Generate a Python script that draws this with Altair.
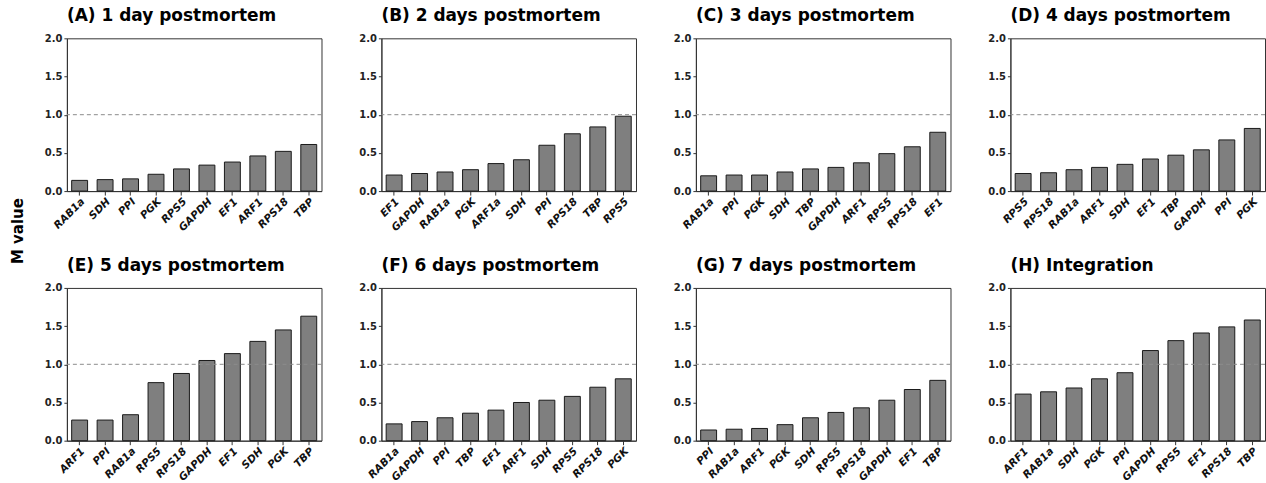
import altair as alt
import pandas as pd

FONT = "DejaVu Sans"

# M values of the candidate reference genes, ordered from most to least stable
genes_a = ["RAB1a", "SDH", "PPI", "PGK", "RPS5", "GAPDH", "EF1", "ARF1", "RPS18", "TBP"]
m_a = [0.14, 0.15, 0.16, 0.22, 0.29, 0.34, 0.38, 0.46, 0.52, 0.61]

genes_b = ["EF1", "GAPDH", "RAB1a", "PGK", "ARF1a", "SDH", "PPI", "RPS18", "TBP", "RPS5"]
m_b = [0.21, 0.23, 0.25, 0.28, 0.36, 0.41, 0.60, 0.75, 0.84, 0.98]

genes_c = ["RAB1a", "PPI", "PGK", "SDH", "TBP", "GAPDH", "ARF1", "RPS5", "RPS18", "EF1"]
m_c = [0.20, 0.21, 0.21, 0.25, 0.29, 0.31, 0.37, 0.49, 0.58, 0.77]

genes_d = ["RPS5", "RPS18", "RAB1a", "ARF1", "SDH", "EF1", "TBP", "GAPDH", "PPI", "PGK"]
m_d = [0.23, 0.24, 0.28, 0.31, 0.35, 0.42, 0.47, 0.54, 0.67, 0.82]

genes_e = ["ARF1", "PPI", "RAB1a", "RPS5", "RPS18", "GAPDH", "EF1", "SDH", "PGK", "TBP"]
m_e = [0.27, 0.27, 0.34, 0.76, 0.88, 1.05, 1.14, 1.30, 1.45, 1.63]

genes_f = ["RAB1a", "GAPDH", "PPI", "TBP", "EF1", "ARF1", "SDH", "RPS5", "RPS18", "PGK"]
m_f = [0.22, 0.25, 0.30, 0.36, 0.40, 0.50, 0.53, 0.58, 0.70, 0.81]

genes_g = ["PPI", "RAB1a", "ARF1", "PGK", "SDH", "RPS5", "RPS18", "GAPDH", "EF1", "TBP"]
m_g = [0.14, 0.15, 0.16, 0.21, 0.30, 0.37, 0.43, 0.53, 0.67, 0.79]

genes_h = ["ARF1", "RAB1a", "SDH", "PGK", "PPI", "GAPDH", "RPS5", "EF1", "RPS18", "TBP"]
m_h = [0.61, 0.64, 0.69, 0.81, 0.89, 1.18, 1.31, 1.41, 1.49, 1.58]

panel_titles = [
    "(A) 1 day postmortem", "(B) 2 days postmortem", "(C) 3 days postmortem",
    "(D) 4 days postmortem", "(E) 5 days postmortem", "(F) 6 days postmortem",
    "(G) 7 days postmortem", "(H) Integration",
]
panel_genes = [genes_a, genes_b, genes_c, genes_d, genes_e, genes_f, genes_g, genes_h]
panel_values = [m_a, m_b, m_c, m_d, m_e, m_f, m_g, m_h]

y_ticks = [0.0, 0.5, 1.0, 1.5, 2.0]
threshold = [1.0]

PANEL_W = 255
PANEL_H = 153


def y_axis():
    return alt.Axis(
        title=None, values=y_ticks, format=".1f", labelFont=FONT,
        labelFontSize=10, labelFontWeight="bold", labelColor="#222",
        tickSize=3, tickColor="#333", domainColor="#333", grid=False,
        labelPadding=2, labelOverlap=False,
    )


def panel(title, genes, values):
    df = pd.DataFrame({"gene": genes, "m": values})
    y_scale = alt.Scale(domain=[0, 2], nice=False)
    bars = alt.Chart(df).mark_bar(
        fill="#7f7f7f", stroke="#1a1a1a", strokeWidth=1
    ).encode(
        x=alt.X(
            "gene:N", sort=None,
            scale=alt.Scale(paddingInner=0.375, paddingOuter=0.1875),
            axis=alt.Axis(
                title=None, labelAngle=315, labelFont=FONT, labelFontSize=10.5,
                labelFontWeight="bold", labelFontStyle="italic", labelColor="#111",
                tickSize=4, tickColor="#333", domainColor="#333", labelPadding=1,
            ),
        ),
        y=alt.Y("m:Q", scale=y_scale, axis=y_axis()),
    )
    rule = alt.Chart(pd.DataFrame({"ref": threshold})).mark_rule(
        color="#8c8c8c", strokeDash=[4, 3], strokeWidth=1
    ).encode(y=alt.Y("ref:Q", scale=y_scale, axis=y_axis()))
    return alt.layer(bars, rule).properties(
        width=PANEL_W,
        height=PANEL_H,
        title=alt.TitleParams(
            title, anchor="start", frame="group", font=FONT, fontSize=17,
            fontWeight="bold", color="#000", offset=8,
        ),
    )


panels = [panel(t, g, v) for t, g, v in zip(panel_titles, panel_genes, panel_values)]
row1 = alt.hconcat(*panels[:4], spacing=35)
row2 = alt.hconcat(*panels[4:], spacing=35)

chart = alt.vconcat(row1, row2, spacing=22).properties(
    title=alt.TitleParams(
        "M value", orient="left", anchor="middle", font=FONT, fontSize=15,
        fontWeight="bold", color="#000", offset=18, dx=14,
    ),
    padding={"left": 10, "top": 6, "right": 0, "bottom": 0},
).configure_view(stroke="#333", strokeWidth=1)

chart.save("out.html", embed_options={"renderer": "svg", "actions": False})
